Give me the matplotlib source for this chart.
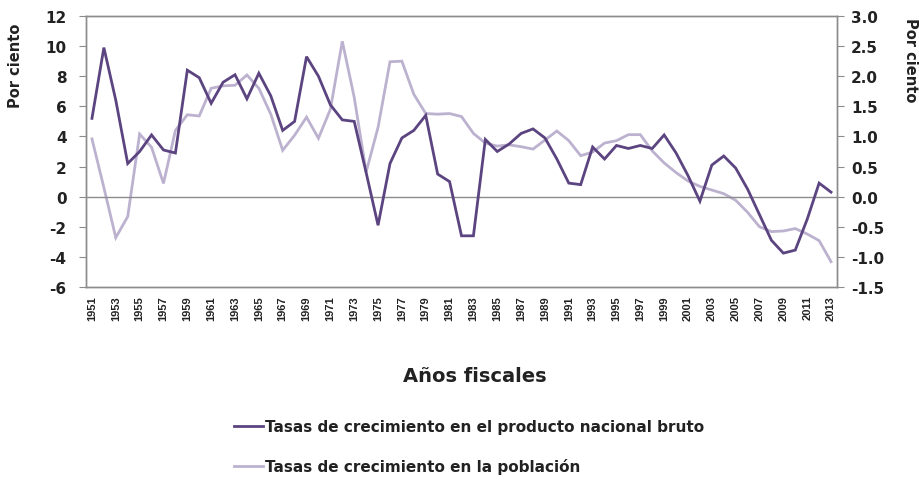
import matplotlib
matplotlib.use("Agg")
import matplotlib.pyplot as plt
import numpy as np
from matplotlib.lines import Line2D

years = list(range(1951, 2014))
gnp_growth = [5.2, 9.9, 6.4, 2.2, 3.0, 4.1, 3.1, 2.9, 8.4, 7.9, 6.2, 7.6, 8.1, 6.5, 8.2, 6.7,
              4.4, 5.0, 9.3, 8.0, 6.1, 5.1, 5.0, 1.6, -1.9, 2.2, 3.9, 4.4, 5.4, 1.5, 1.0, -2.6,
              -2.6, 3.8, 3.0, 3.5, 4.2, 4.5, 3.9, 2.5, 0.9, 0.8, 3.3, 2.5, 3.4, 3.2, 3.4, 3.2,
              4.1, 2.9, 1.4, -0.3, 2.1, 2.7, 1.9, 0.5, -1.2, -2.9, -3.75, -3.55, -1.5, 0.9, 0.3]
pop_growth = [0.96, 0.15, -0.68, -0.33, 1.04, 0.82, 0.22, 1.1, 1.36, 1.34, 1.8, 1.84, 1.85, 2.02,
              1.8, 1.37, 0.77, 1.02, 1.32, 0.97, 1.45, 2.58, 1.65, 0.41, 1.15, 2.24, 2.25, 1.7,
              1.38, 1.37, 1.38, 1.33, 1.05, 0.89, 0.84, 0.86, 0.83, 0.79, 0.94, 1.09, 0.93, 0.68,
              0.74, 0.89, 0.93, 1.03, 1.03, 0.76, 0.56, 0.40, 0.26, 0.17, 0.11, 0.05, -0.06,
              -0.26, -0.50, -0.58, -0.57, -0.53, -0.62, -0.73, -1.08]
tick_years = [str(y) for y in years[::2]]
left_ticks = [-6, -4, -2, 0, 2, 4, 6, 8, 10, 12]
right_ticks = [-1.5, -1.0, -0.5, 0.0, 0.5, 1.0, 1.5, 2.0, 2.5, 3.0]

label_gnp = "Tasas de crecimiento en el producto nacional bruto"
label_pop = "Tasas de crecimiento en la población"
dark = "#5B4480"
light = "#BCB2CF"
grey = "#8C8C8C"
txt = "#222222"

plt.rcParams['font.family'] = ['DejaVu Sans']
plt.rcParams['axes.unicode_minus'] = False

fig = plt.figure(figsize=(9.2, 4.81), dpi=100)
ax = fig.add_axes([86/920, 1-288/481, (837-86)/920, (288-17)/481])
ax2 = ax.twinx()

x = np.arange(len(years))
ax.plot(x, gnp_growth, color=dark, lw=2.0, solid_joinstyle='miter', zorder=3)
ax2.plot(x, pop_growth, color=light, lw=2.0, solid_joinstyle='miter', zorder=2)
ax.set_zorder(ax2.get_zorder() + 1)
ax.patch.set_visible(False)

ax.set_xlim(-0.5, len(years) - 0.5)
ax.set_ylim(-6, 12)
ax.set_yticks(left_ticks)
ax.set_yticklabels([str(v) for v in left_ticks])
ax2.set_ylim(-1.5, 3.0)
ax2.set_yticks(right_ticks)
ax2.set_yticklabels([f"{v:.1f}" for v in right_ticks])

ax.set_xticks(x[::2])
ax.set_xticklabels(tick_years, rotation=90, fontsize=8, fontweight='bold', color=txt,
                   family=['Liberation Sans', 'DejaVu Sans'])
ax.tick_params(axis='x', length=0, pad=6)
ax.tick_params(axis='y', length=5, color=grey, labelsize=11, pad=9, labelcolor=txt)
ax2.tick_params(axis='y', length=5, color=grey, labelsize=11, pad=5, labelcolor=txt)
for t in ax.get_yticklabels() + ax2.get_yticklabels():
    t.set_fontweight('bold')

ax.axhline(0, color=grey, lw=1.0, zorder=1)
for a in (ax, ax2):
    for s in a.spines.values():
        s.set_color(grey)
        s.set_linewidth(1.0)

fig.text(16/920, 1-66/481, "Por ciento", rotation=90, ha='center', va='center',
         fontsize=10.5, fontweight='bold', color=txt)
fig.text(911/920, 1-60/481, "Por ciento", rotation=270, ha='center', va='center',
         fontsize=10.5, fontweight='bold', color=txt)
fig.text(475/920, 1-377/481, "Años fiscales", ha='center', va='center',
         fontsize=14, fontweight='bold', color=txt)

handles = [Line2D([], [], color=dark, lw=2.0), Line2D([], [], color=light, lw=2.0)]
fig.legend(handles, [label_gnp, label_pop], loc='upper left',
           bbox_to_anchor=(234/920, 1-420/481), frameon=False,
           prop={'weight': 'bold', 'size': 11}, handlelength=1.9, handletextpad=0.1,
           labelspacing=1.6, borderaxespad=0, borderpad=0, labelcolor=txt)

fig.savefig("out.png", dpi=100)
